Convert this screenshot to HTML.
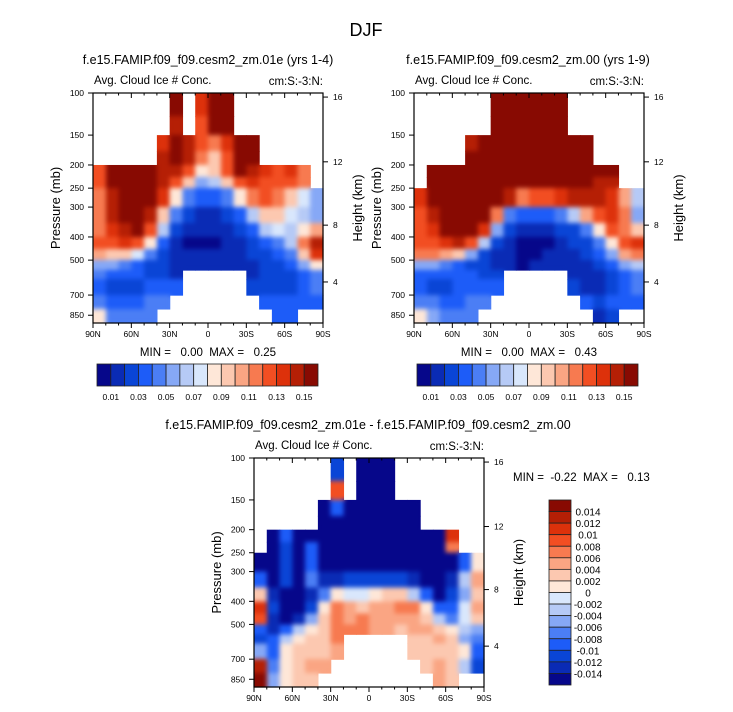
<!DOCTYPE html>
<html><head><meta charset="utf-8"><style>
body{margin:0;background:#fff}
svg{display:block;font-family:"Liberation Sans",sans-serif}
text{white-space:pre}
</style></head><body>
<svg id="fig" width="733" height="712" viewBox="0 0 733 712" xmlns="http://www.w3.org/2000/svg">
<defs>
<filter id="smooth" x="-5%" y="-5%" width="110%" height="110%" color-interpolation-filters="sRGB">
<feGaussianBlur stdDeviation="2.5"/>
<feComponentTransfer><feFuncA type="table" tableValues="0 1 1 1 1 1 1 1 1 1"/></feComponentTransfer>
</filter>
</defs>
<text x="366" y="36" font-size="18" text-anchor="middle">DJF</text>
</svg>
<script>
// ---- data ----
const latTicks = ["90N","60N","30N","0","30S","60S","90S"];
const presTicks = [100,150,200,250,300,400,500,700,850];
const heightTicks = [16,12,8,4];
const heightPres = [104,194,357,617]; // pressure equivalent of height ticks (approx)
const presEdges = [100,125,150,175,200,225,250,300,350,400,450,500,550,600,700,800,916];
const colors = ["#06078a","#0a2bb5","#0a45d6","#1d5cf8","#4b7ef5","#86a8f6","#b6caf6","#d9e7fc","#fee7d8","#fcc8b0","#faa583","#f77a50","#f24e22","#dd310b","#b51f05","#880a02"];
const cbTop = ["0.01","0.03","0.05","0.07","0.09","0.11","0.13","0.15"];
const cbDiff = ["0.014","0.012","0.01","0.008","0.006","0.004","0.002","0","-0.002","-0.004","-0.006","-0.008","-0.01","-0.012","-0.014"];
const gridA = [
"......f.dff.......",
"......e.cff.......",
".....dfecbdff.....",
".....efeb9cff.....",
"cffffeec89cfedcdb.",
"cffffec9569cdcccb.",
"befffd843348bcb975",
"beffe9421123699765",
"bdefc621111236768a",
"ccdc831000112346be",
"a9974211111122349d",
"554322111111122358",
"4333221.....122234",
"3222333.....222234",
"433344.......33333",
"84444.........33.."];
const gridB = [
"......ffffff......",
"......ffffff......",
"....efffffffff....",
"....ffffffffff....",
".fffffffffffffff..",
".fffffffffffffee..",
"dffffffebccdeeeda6",
"ceffffb433346acdb5",
"cdfffd521112248cb9",
"ccdec62100012248cd",
"bba9521100111235ab",
"554322110111112356",
"3333322.....111234",
"3223333.....211234",
"443344.......32333",
"85444.........12.."];
const gridC = [
"......2.000.......",
"......c.000.......",
".....03000000.....",
".....00000000.....",
".03000000000000d..",
".02030000000000b..",
"002030000000000038",
"30204112222210016a",
"910014877899630259",
"d20028ba9aabb8337a",
"c10159babaaaa96479",
"313689bbbaa9aa9865",
"236899b.....99a954",
"538999a.....999983",
"e489aa.......9a962",
"f5899.........a9.."];

const NS="http://www.w3.org/2000/svg";
const svg=document.getElementById('fig');
const defs=svg.querySelector('defs');
function el(tag,attrs,parent,text){const e=document.createElementNS(NS,tag);for(const k in attrs)e.setAttribute(k,attrs[k]);if(text!==undefined)e.textContent=text;(parent||svg).appendChild(e);return e;}

function panel(cfg){
  const g=el('g',{});
  
  
  const x0=cfg.x,y0=cfg.y,w=230,h=cfg.h;
  const yOf=p=>y0+h*Math.log10(p/100)/Math.log10(916/100);
  const xOf=lat=>x0+w*(90-lat)/180;
  const clip=el('clipPath',{id:'clip-'+cfg.name},defs);
  const outer=el('g',{'clip-path':'url(#clip-'+cfg.name+')'},g);
  const cg=el('g',{'shape-rendering':'crispEdges',filter:'url(#smooth)'},outer);
  
  
  cfg.grid.forEach((row,r)=>{
    for(let c=0;c<18;c++){
      const ch=row[c]; if(ch==='.')continue;
      const v=parseInt(ch,16);
      const xa=xOf(90-c*10),xb=xOf(90-(c+1)*10);
      const ya=yOf(presEdges[r]),yb=yOf(presEdges[r+1]);
      const at={x:xa.toFixed(2),y:ya.toFixed(2),width:(xb-xa+0.6).toFixed(2),height:(yb-ya+0.6).toFixed(2)};
      const rc=el('rect',Object.assign({fill:colors[v]},at),cg);
      
      
      el('rect',at,clip);
    }
  });
  const fr=el('rect',{x:x0,y:y0,width:w,height:h,fill:'none',stroke:'#000','stroke-width':1.2},g);
  
  
  for(let lat=90;lat>=-90;lat-=10){
    const x=xOf(lat),L=(lat%30===0)?5:2.5;
    el('line',{x1:x,y1:y0,x2:x,y2:y0+L,stroke:'#000'},g);
    el('line',{x1:x,y1:y0+h,x2:x,y2:y0+h+L,stroke:'#000'},g);
  }
  latTicks.forEach((t,i)=>{
    const tx=el('text',{x:xOf(90-i*30),y:y0+h+14,'font-size':8.5,'text-anchor':'middle'},g,t);
    
    
  });
  presTicks.forEach(p=>{
    const y=yOf(p);
    el('line',{x1:x0-5,y1:y,x2:x0,y2:y,stroke:'#000'},g);
    const tx=el('text',{x:x0-9,y:y+3,'font-size':8.5,'text-anchor':'end'},g,p);
    
    
  });
  heightTicks.forEach((t,i)=>{
    const y=yOf(heightPres[i]);
    el('line',{x1:x0+w,y1:y,x2:x0+w+5,y2:y,stroke:'#000'},g);
    const tx=el('text',{x:x0+w+10,y:y+3,'font-size':8.5},g,t);
    
    
  });
  const yt=el('text',{x:0,y:0,'font-size':13,'text-anchor':'middle',transform:`translate(${x0-33},${y0+h/2}) rotate(-90)`},g,'Pressure (mb)');
  
  
  const ht=el('text',{x:0,y:0,'font-size':13,'text-anchor':'middle',transform:`translate(${x0+w+39},${y0+h/2}) rotate(-90)`},g,'Height (km)');
  
  
  const lt=el('text',{x:x0+1,y:y0-9,'font-size':11.5},g,'Avg. Cloud Ice # Conc.');
  
  
  const rt=el('text',{x:x0+w,y:y0-8,'font-size':11.5,'text-anchor':'end'},g,'cm:S:-3:N:');
  
  
  const tt=el('text',{x:cfg.tx,y:y0-29,'font-size':12.5,'text-anchor':'middle'},g,cfg.title);
  
  
  const mm=el('text',{x:cfg.mx,y:cfg.my,'font-size':11.5,'text-anchor':cfg.ma},g,cfg.minmax);
  
  
}

function hbar(x,y,name){
  const g=el('g',{});
  
  
  const bw=221/16;
  colors.forEach((c,i)=>{
    const r=el('rect',{x:x+i*bw,y:y,width:bw,height:22,fill:c,stroke:'#222','stroke-width':0.8},g);
    
    
  });
  cbTop.forEach((t,i)=>{
    const tx=el('text',{x:x+(2*i+1)*bw,y:y+36,'font-size':8.5,'text-anchor':'middle'},g,t);
    
    
  });
}

panel({name:'panel-case',x:93,y:93,h:230,grid:gridA,tx:208,title:'f.e15.FAMIP.f09_f09.cesm2_zm.01e (yrs 1-4)',mx:208,my:356,ma:'middle',minmax:'MIN =   0.00  MAX =   0.25'});
panel({name:'panel-control',x:414,y:93,h:230,grid:gridB,tx:528,title:'f.e15.FAMIP.f09_f09.cesm2_zm.00 (yrs 1-9)',mx:529,my:356,ma:'middle',minmax:'MIN =   0.00  MAX =   0.43'});
panel({name:'panel-difference',x:254,y:458,h:229,grid:gridC,tx:368,title:'f.e15.FAMIP.f09_f09.cesm2_zm.01e - f.e15.FAMIP.f09_f09.cesm2_zm.00',mx:513,my:481,ma:'start',minmax:'MIN =  -0.22  MAX =   0.13'});
hbar(97,364,'colorbar-case');
hbar(417,364,'colorbar-control');

(function(){
  const g=el('g',{});
  
  
  const x=549,y=500,bh=185/16;
  for(let i=0;i<16;i++){
    const r=el('rect',{x:x,y:y+i*bh,width:22,height:bh,fill:colors[15-i],stroke:'#222','stroke-width':0.8},g);
    
    
  }
  cbDiff.forEach((t,i)=>{
    const tx=el('text',{x:588,y:y+(i+1)*bh+4,'font-size':10,'text-anchor':'middle'},g,t);
    
    
  });
})();
</script>
</body></html>
